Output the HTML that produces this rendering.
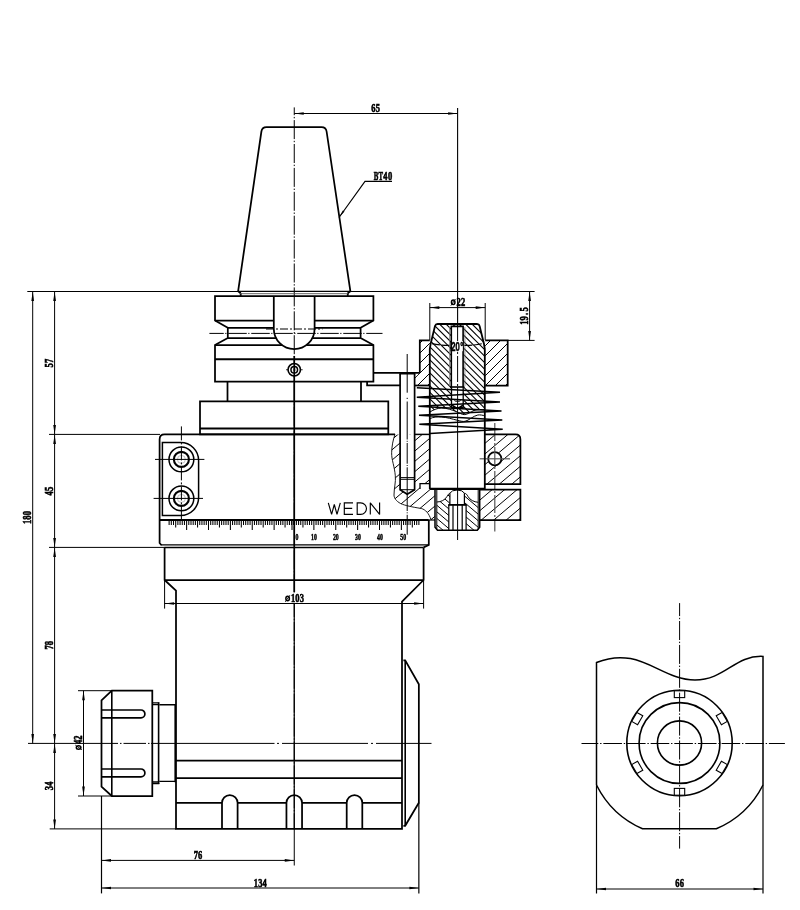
<!DOCTYPE html>
<html><head><meta charset="utf-8"><title>Angle head drawing</title>
<style>
html,body{margin:0;padding:0;background:#fff;}
body{width:800px;height:910px;overflow:hidden;font-family:"Liberation Sans",sans-serif;}
svg{display:block;filter:grayscale(1);}
</style></head><body>
<svg width="800" height="910" viewBox="0 0 800 910" fill="none" stroke="#000" stroke-linecap="butt" stroke-linejoin="miter">
<rect x="0" y="0" width="800" height="910" fill="#fff" stroke="none"/>
<line x1="27.30" y1="291.50" x2="534.60" y2="291.50" stroke-width="1.0" />
<line x1="32.70" y1="291.40" x2="32.70" y2="743.40" stroke-width="1.0" />
<polygon points="32.70,291.40 34.05,300.90 31.35,300.90" fill="#000" stroke="none"/>
<polygon points="32.70,743.40 31.35,733.90 34.05,733.90" fill="#000" stroke="none"/>
<text transform="translate(31.30,517.60) rotate(-90) translate(-4.40,0) scale(0.65,1)" text-anchor="middle" font-size="13.1" font-weight="bold" font-family="&quot;Liberation Serif&quot;, serif" fill="#000" stroke="#000" stroke-width="0.65">1</text>
<text transform="translate(31.30,517.60) rotate(-90) translate(0.00,0) scale(0.65,1)" text-anchor="middle" font-size="13.1" font-weight="bold" font-family="&quot;Liberation Serif&quot;, serif" fill="#000" stroke="#000" stroke-width="0.65">8</text>
<text transform="translate(31.30,517.60) rotate(-90) translate(4.40,0) scale(0.65,1)" text-anchor="middle" font-size="13.1" font-weight="bold" font-family="&quot;Liberation Serif&quot;, serif" fill="#000" stroke="#000" stroke-width="0.65">0</text>
<line x1="54.60" y1="291.40" x2="54.60" y2="434.40" stroke-width="1.0" />
<polygon points="54.60,291.40 55.95,300.90 53.25,300.90" fill="#000" stroke="none"/>
<polygon points="54.60,434.40 53.25,424.90 55.95,424.90" fill="#000" stroke="none"/>
<line x1="54.60" y1="434.40" x2="54.60" y2="547.40" stroke-width="1.0" />
<polygon points="54.60,434.40 55.95,443.90 53.25,443.90" fill="#000" stroke="none"/>
<polygon points="54.60,547.40 53.25,537.90 55.95,537.90" fill="#000" stroke="none"/>
<line x1="54.60" y1="547.40" x2="54.60" y2="743.40" stroke-width="1.0" />
<polygon points="54.60,547.40 55.95,556.90 53.25,556.90" fill="#000" stroke="none"/>
<polygon points="54.60,743.40 53.25,733.90 55.95,733.90" fill="#000" stroke="none"/>
<line x1="54.60" y1="743.40" x2="54.60" y2="828.90" stroke-width="1.0" />
<polygon points="54.60,743.40 55.95,752.90 53.25,752.90" fill="#000" stroke="none"/>
<polygon points="54.60,828.90 53.25,819.40 55.95,819.40" fill="#000" stroke="none"/>
<text transform="translate(53.10,363.10) rotate(-90) translate(-2.20,0) scale(0.65,1)" text-anchor="middle" font-size="13.1" font-weight="bold" font-family="&quot;Liberation Serif&quot;, serif" fill="#000" stroke="#000" stroke-width="0.65">5</text>
<text transform="translate(53.10,363.10) rotate(-90) translate(2.20,0) scale(0.65,1)" text-anchor="middle" font-size="13.1" font-weight="bold" font-family="&quot;Liberation Serif&quot;, serif" fill="#000" stroke="#000" stroke-width="0.65">7</text>
<text transform="translate(53.10,491.10) rotate(-90) translate(-2.20,0) scale(0.65,1)" text-anchor="middle" font-size="13.1" font-weight="bold" font-family="&quot;Liberation Serif&quot;, serif" fill="#000" stroke="#000" stroke-width="0.65">4</text>
<text transform="translate(53.10,491.10) rotate(-90) translate(2.20,0) scale(0.65,1)" text-anchor="middle" font-size="13.1" font-weight="bold" font-family="&quot;Liberation Serif&quot;, serif" fill="#000" stroke="#000" stroke-width="0.65">5</text>
<text transform="translate(53.10,645.30) rotate(-90) translate(-2.20,0) scale(0.65,1)" text-anchor="middle" font-size="13.1" font-weight="bold" font-family="&quot;Liberation Serif&quot;, serif" fill="#000" stroke="#000" stroke-width="0.65">7</text>
<text transform="translate(53.10,645.30) rotate(-90) translate(2.20,0) scale(0.65,1)" text-anchor="middle" font-size="13.1" font-weight="bold" font-family="&quot;Liberation Serif&quot;, serif" fill="#000" stroke="#000" stroke-width="0.65">8</text>
<text transform="translate(53.10,785.90) rotate(-90) translate(-2.20,0) scale(0.65,1)" text-anchor="middle" font-size="13.1" font-weight="bold" font-family="&quot;Liberation Serif&quot;, serif" fill="#000" stroke="#000" stroke-width="0.65">3</text>
<text transform="translate(53.10,785.90) rotate(-90) translate(2.20,0) scale(0.65,1)" text-anchor="middle" font-size="13.1" font-weight="bold" font-family="&quot;Liberation Serif&quot;, serif" fill="#000" stroke="#000" stroke-width="0.65">4</text>
<line x1="49.00" y1="434.40" x2="160.00" y2="434.40" stroke-width="1.0" />
<line x1="49.00" y1="547.40" x2="165.00" y2="547.40" stroke-width="1.0" />
<line x1="49.70" y1="828.90" x2="176.00" y2="828.90" stroke-width="1.0" />
<line x1="294.25" y1="113.50" x2="457.60" y2="113.50" stroke-width="1.0" />
<polygon points="294.25,113.50 303.75,112.15 303.75,114.85" fill="#000" stroke="none"/>
<polygon points="457.60,113.50 448.10,114.85 448.10,112.15" fill="#000" stroke="none"/>
<text transform="translate(375.60,112.00) translate(-2.20,0) scale(0.65,1)" text-anchor="middle" font-size="13.1" font-weight="bold" font-family="&quot;Liberation Serif&quot;, serif" fill="#000" stroke="#000" stroke-width="0.65">6</text>
<text transform="translate(375.60,112.00) translate(2.20,0) scale(0.65,1)" text-anchor="middle" font-size="13.1" font-weight="bold" font-family="&quot;Liberation Serif&quot;, serif" fill="#000" stroke="#000" stroke-width="0.65">5</text>
<line x1="457.60" y1="108.00" x2="457.60" y2="324.00" stroke-width="1.1" />
<path d="M339,217.5 L365,181.3 L392,181.3" stroke-width="1.15" />
<polygon points="339.00,217.50 342.85,210.42 344.48,211.59" fill="#000" stroke="none"/>
<text transform="translate(383.10,179.90) translate(-7.05,0) scale(0.52,1)" text-anchor="middle" font-size="13.1" font-weight="bold" font-family="&quot;Liberation Serif&quot;, serif" fill="#000" stroke="#000" stroke-width="0.65">B</text>
<text transform="translate(383.10,179.90) translate(-2.35,0) scale(0.52,1)" text-anchor="middle" font-size="13.1" font-weight="bold" font-family="&quot;Liberation Serif&quot;, serif" fill="#000" stroke="#000" stroke-width="0.65">T</text>
<text transform="translate(383.10,179.90) translate(2.35,0) scale(0.65,1)" text-anchor="middle" font-size="13.1" font-weight="bold" font-family="&quot;Liberation Serif&quot;, serif" fill="#000" stroke="#000" stroke-width="0.65">4</text>
<text transform="translate(383.10,179.90) translate(7.05,0) scale(0.65,1)" text-anchor="middle" font-size="13.1" font-weight="bold" font-family="&quot;Liberation Serif&quot;, serif" fill="#000" stroke="#000" stroke-width="0.65">0</text>
<line x1="294.25" y1="107.40" x2="294.25" y2="592.30" stroke-width="1.0" stroke-dasharray="19 1.7 1.4 1.8" stroke-dashoffset="11.2"/>
<line x1="294.25" y1="604.00" x2="294.25" y2="828.00" stroke-width="1.0" stroke-dasharray="19 1.7 1.4 1.8" stroke-dashoffset="5.9"/>
<line x1="294.25" y1="830.00" x2="294.25" y2="865.50" stroke-width="1.0" />
<line x1="28.00" y1="743.40" x2="118.00" y2="743.40" stroke-width="1.0" />
<line x1="120.00" y1="743.40" x2="121.50" y2="743.40" stroke-width="1.0" />
<line x1="123.50" y1="743.40" x2="146.00" y2="743.40" stroke-width="1.0" />
<line x1="148.00" y1="743.40" x2="149.50" y2="743.40" stroke-width="1.0" />
<line x1="151.00" y1="743.40" x2="274.50" y2="743.40" stroke-width="1.0" />
<line x1="277.00" y1="743.40" x2="279.00" y2="743.40" stroke-width="1.0" />
<line x1="282.00" y1="743.40" x2="368.00" y2="743.40" stroke-width="1.0" />
<line x1="371.00" y1="743.40" x2="373.00" y2="743.40" stroke-width="1.0" />
<line x1="376.00" y1="743.40" x2="431.50" y2="743.40" stroke-width="1.0" />
<line x1="209.40" y1="333.40" x2="382.50" y2="333.40" stroke-width="1.0" stroke-dasharray="18.5 1.5 1.2 1.8" stroke-dashoffset="4.15"/>
<line x1="266.00" y1="329.00" x2="322.50" y2="329.00" stroke-width="1.2" stroke-dasharray="8 2 2 2"/>
<line x1="429.80" y1="303.00" x2="429.80" y2="340.00" stroke-width="1.0" />
<line x1="485.20" y1="303.00" x2="485.20" y2="340.00" stroke-width="1.0" />
<line x1="429.80" y1="307.60" x2="485.20" y2="307.60" stroke-width="1.0" />
<polygon points="429.80,307.60 439.30,306.25 439.30,308.95" fill="#000" stroke="none"/>
<polygon points="485.20,307.60 475.70,308.95 475.70,306.25" fill="#000" stroke="none"/>
<g transform="translate(457.50,305.90)"><ellipse cx="-4.30" cy="-3.6" rx="1.75" ry="2.3" fill="none" stroke="#000" stroke-width="1.5"/><line x1="-6.60" y1="-0.3" x2="-2.00" y2="-6.9" stroke="#000" stroke-width="0.9"/></g>
<text transform="translate(457.50,305.90) translate(1.10,0) scale(0.65,1)" text-anchor="middle" font-size="13.1" font-weight="bold" font-family="&quot;Liberation Serif&quot;, serif" fill="#000" stroke="#000" stroke-width="0.65">2</text>
<text transform="translate(457.50,305.90) translate(5.50,0) scale(0.65,1)" text-anchor="middle" font-size="13.1" font-weight="bold" font-family="&quot;Liberation Serif&quot;, serif" fill="#000" stroke="#000" stroke-width="0.65">2</text>
<line x1="507.70" y1="340.40" x2="534.60" y2="340.40" stroke-width="1.0" />
<line x1="529.60" y1="291.40" x2="529.60" y2="340.40" stroke-width="1.0" />
<polygon points="529.60,291.40 530.95,300.90 528.25,300.90" fill="#000" stroke="none"/>
<polygon points="529.60,340.40 528.25,330.90 530.95,330.90" fill="#000" stroke="none"/>
<text transform="translate(528.30,316.10) rotate(-90) translate(-6.60,0) scale(0.65,1)" text-anchor="middle" font-size="13.1" font-weight="bold" font-family="&quot;Liberation Serif&quot;, serif" fill="#000" stroke="#000" stroke-width="0.65">1</text>
<text transform="translate(528.30,316.10) rotate(-90) translate(-2.20,0) scale(0.65,1)" text-anchor="middle" font-size="13.1" font-weight="bold" font-family="&quot;Liberation Serif&quot;, serif" fill="#000" stroke="#000" stroke-width="0.65">9</text>
<text transform="translate(528.30,316.10) rotate(-90) translate(2.20,0) scale(0.65,1)" text-anchor="middle" font-size="13.1" font-weight="bold" font-family="&quot;Liberation Serif&quot;, serif" fill="#000" stroke="#000" stroke-width="0.65">.</text>
<text transform="translate(528.30,316.10) rotate(-90) translate(6.60,0) scale(0.65,1)" text-anchor="middle" font-size="13.1" font-weight="bold" font-family="&quot;Liberation Serif&quot;, serif" fill="#000" stroke="#000" stroke-width="0.65">5</text>
<line x1="164.60" y1="580.00" x2="164.60" y2="608.60" stroke-width="1.0" />
<line x1="423.60" y1="580.00" x2="423.60" y2="608.60" stroke-width="1.0" />
<line x1="164.60" y1="603.50" x2="423.60" y2="603.50" stroke-width="1.0" />
<polygon points="164.60,603.50 174.10,602.15 174.10,604.85" fill="#000" stroke="none"/>
<polygon points="423.60,603.50 414.10,604.85 414.10,602.15" fill="#000" stroke="none"/>
<g transform="translate(294.10,602.10)"><ellipse cx="-6.50" cy="-3.6" rx="1.75" ry="2.3" fill="none" stroke="#000" stroke-width="1.5"/><line x1="-8.80" y1="-0.3" x2="-4.20" y2="-6.9" stroke="#000" stroke-width="0.9"/></g>
<text transform="translate(294.10,602.10) translate(-1.10,0) scale(0.65,1)" text-anchor="middle" font-size="13.1" font-weight="bold" font-family="&quot;Liberation Serif&quot;, serif" fill="#000" stroke="#000" stroke-width="0.65">1</text>
<text transform="translate(294.10,602.10) translate(3.30,0) scale(0.65,1)" text-anchor="middle" font-size="13.1" font-weight="bold" font-family="&quot;Liberation Serif&quot;, serif" fill="#000" stroke="#000" stroke-width="0.65">0</text>
<text transform="translate(294.10,602.10) translate(7.70,0) scale(0.65,1)" text-anchor="middle" font-size="13.1" font-weight="bold" font-family="&quot;Liberation Serif&quot;, serif" fill="#000" stroke="#000" stroke-width="0.65">3</text>
<line x1="78.00" y1="690.70" x2="111.80" y2="690.70" stroke-width="1.0" />
<line x1="78.00" y1="796.00" x2="111.80" y2="796.00" stroke-width="1.0" />
<line x1="83.50" y1="690.70" x2="83.50" y2="796.00" stroke-width="1.0" />
<polygon points="83.50,690.70 84.85,700.20 82.15,700.20" fill="#000" stroke="none"/>
<polygon points="83.50,796.00 82.15,786.50 84.85,786.50" fill="#000" stroke="none"/>
<g transform="translate(82.20,743.10) rotate(-90)"><ellipse cx="-4.30" cy="-3.6" rx="1.75" ry="2.3" fill="none" stroke="#000" stroke-width="1.5"/><line x1="-6.60" y1="-0.3" x2="-2.00" y2="-6.9" stroke="#000" stroke-width="0.9"/></g>
<text transform="translate(82.20,743.10) rotate(-90) translate(1.10,0) scale(0.65,1)" text-anchor="middle" font-size="13.1" font-weight="bold" font-family="&quot;Liberation Serif&quot;, serif" fill="#000" stroke="#000" stroke-width="0.65">4</text>
<text transform="translate(82.20,743.10) rotate(-90) translate(5.50,0) scale(0.65,1)" text-anchor="middle" font-size="13.1" font-weight="bold" font-family="&quot;Liberation Serif&quot;, serif" fill="#000" stroke="#000" stroke-width="0.65">2</text>
<line x1="101.50" y1="796.00" x2="101.50" y2="893.40" stroke-width="1.2" />
<line x1="418.85" y1="802.70" x2="418.85" y2="893.40" stroke-width="1.2" />
<line x1="101.50" y1="860.40" x2="294.25" y2="860.40" stroke-width="1.0" />
<polygon points="101.50,860.40 111.00,859.05 111.00,861.75" fill="#000" stroke="none"/>
<polygon points="294.25,860.40 284.75,861.75 284.75,859.05" fill="#000" stroke="none"/>
<text transform="translate(198.00,858.70) translate(-2.20,0) scale(0.65,1)" text-anchor="middle" font-size="13.1" font-weight="bold" font-family="&quot;Liberation Serif&quot;, serif" fill="#000" stroke="#000" stroke-width="0.65">7</text>
<text transform="translate(198.00,858.70) translate(2.20,0) scale(0.65,1)" text-anchor="middle" font-size="13.1" font-weight="bold" font-family="&quot;Liberation Serif&quot;, serif" fill="#000" stroke="#000" stroke-width="0.65">6</text>
<line x1="101.50" y1="888.00" x2="418.85" y2="888.00" stroke-width="1.0" />
<polygon points="101.50,888.00 111.00,886.65 111.00,889.35" fill="#000" stroke="none"/>
<polygon points="418.85,888.00 409.35,889.35 409.35,886.65" fill="#000" stroke="none"/>
<text transform="translate(260.25,886.60) translate(-4.40,0) scale(0.65,1)" text-anchor="middle" font-size="13.1" font-weight="bold" font-family="&quot;Liberation Serif&quot;, serif" fill="#000" stroke="#000" stroke-width="0.65">1</text>
<text transform="translate(260.25,886.60) translate(0.00,0) scale(0.65,1)" text-anchor="middle" font-size="13.1" font-weight="bold" font-family="&quot;Liberation Serif&quot;, serif" fill="#000" stroke="#000" stroke-width="0.65">3</text>
<text transform="translate(260.25,886.60) translate(4.40,0) scale(0.65,1)" text-anchor="middle" font-size="13.1" font-weight="bold" font-family="&quot;Liberation Serif&quot;, serif" fill="#000" stroke="#000" stroke-width="0.65">4</text>
<line x1="596.50" y1="785.00" x2="596.50" y2="893.50" stroke-width="1.2" />
<line x1="763.00" y1="785.00" x2="763.00" y2="893.50" stroke-width="1.2" />
<line x1="596.50" y1="889.00" x2="763.00" y2="889.00" stroke-width="1.0" />
<polygon points="596.50,889.00 606.00,887.65 606.00,890.35" fill="#000" stroke="none"/>
<polygon points="763.00,889.00 753.50,890.35 753.50,887.65" fill="#000" stroke="none"/>
<text transform="translate(679.60,887.40) translate(-2.20,0) scale(0.65,1)" text-anchor="middle" font-size="13.1" font-weight="bold" font-family="&quot;Liberation Serif&quot;, serif" fill="#000" stroke="#000" stroke-width="0.65">6</text>
<text transform="translate(679.60,887.40) translate(2.20,0) scale(0.65,1)" text-anchor="middle" font-size="13.1" font-weight="bold" font-family="&quot;Liberation Serif&quot;, serif" fill="#000" stroke="#000" stroke-width="0.65">6</text>
<path d="M238.1,291.4 L261.4,131.5 Q262,127 266.5,127 L321.5,127 Q326,127 326.6,131.5 L350.4,291.4" stroke-width="1.75" />
<path d="M238.1,291.4 Q241.5,292.5 240.6,296 M350.4,291.4 Q347,292.5 347.9,296" stroke-width="1.75" />
<line x1="238.10" y1="291.40" x2="350.40" y2="291.40" stroke-width="1.3" />
<line x1="240.00" y1="293.70" x2="348.50" y2="293.70" stroke-width="0.9" stroke="#555"/>
<path d="M215,296 L373.4,296 L373.4,320.6 L360.6,327.8 L360.6,338.1 L373.4,345 L373.4,381.5 L215,381.5 L215,345 L227.8,338.1 L227.8,327.8 L215,320.6 Z" stroke-width="1.75" />
<path d="M273.8,296 L273.8,328.7 A20.4,20.4 0 0 0 314.6,328.7 L314.6,296" stroke-width="1.75" />
<line x1="215.00" y1="320.60" x2="273.85" y2="320.60" stroke-width="1.75" />
<line x1="314.65" y1="320.60" x2="373.40" y2="320.60" stroke-width="1.75" />
<line x1="227.80" y1="327.80" x2="273.85" y2="327.80" stroke-width="1.75" />
<line x1="314.65" y1="327.80" x2="360.60" y2="327.80" stroke-width="1.75" />
<line x1="227.80" y1="338.10" x2="276.14" y2="338.10" stroke-width="1.75" />
<line x1="312.36" y1="338.10" x2="360.60" y2="338.10" stroke-width="1.75" />
<line x1="215.00" y1="345.00" x2="281.98" y2="345.00" stroke-width="1.75" />
<line x1="306.52" y1="345.00" x2="373.40" y2="345.00" stroke-width="1.75" />
<line x1="215.00" y1="359.20" x2="373.40" y2="359.20" stroke-width="2" />
<line x1="286.00" y1="369.75" x2="302.70" y2="369.75" stroke-width="0.8" />
<circle cx="294.25" cy="369.75" r="6.2" stroke-width="1.6" fill="#fff"/>
<circle cx="294.25" cy="369.75" r="3.3" stroke-width="1.5" />
<rect x="292.9" y="368.4" width="2.7" height="2.7" fill="#999" stroke="none"/>
<line x1="294.25" y1="356.00" x2="294.25" y2="592.30" stroke-width="1.7" />
<line x1="294.25" y1="604.00" x2="294.25" y2="830.00" stroke-width="1.2" />
<path d="M227.5,381.5 L227.5,401.3 M361,381.5 L361,401.3" stroke-width="1.75" />
<path d="M200,401.3 L388.3,401.3 L388.3,434.4 L200,434.4 Z" stroke-width="1.75" />
<line x1="200.00" y1="428.60" x2="388.30" y2="428.60" stroke-width="2" />
<path d="M373.4,372.8 L419.8,372.8" stroke-width="1.75" />
<path d="M367.1,381.5 L367.1,385.4 L400.1,385.4" stroke-width="1.75" />
<path d="M395,434.4 L164.6,434.4 Q159.6,434.4 159.6,439.4 L159.6,543 L161.5,545.2" stroke-width="1.75" />
<line x1="159.60" y1="520.00" x2="428.80" y2="520.00" stroke-width="2.2" />
<line x1="428.80" y1="520.00" x2="435.00" y2="520.00" stroke-width="1.2" />
<path d="M428.8,520 L428.8,545 L423.6,547.4" stroke-width="1.75" />
<line x1="161.00" y1="544.80" x2="428.80" y2="544.80" stroke-width="1.3" />
<line x1="164.60" y1="547.40" x2="423.60" y2="547.40" stroke-width="1.5" />
<path d="M164.6,547.4 L164.6,580 L176,590.6 L176,828.9 L402,828.9 L402,601.6 L423.6,580 L423.6,547.4" stroke-width="1.75" />
<line x1="164.60" y1="580.00" x2="423.60" y2="580.00" stroke-width="1.75" />
<path d="M180.6,442.4 L162.4,442.4 L162.4,515.6 L180.6,515.6 A18,18 0 0 0 198.6,497.6 L198.6,460.4 A18,18 0 0 0 180.6,442.4 Z" stroke-width="1.5" />
<circle cx="181.4" cy="459.4" r="12.4" stroke-width="1.5" />
<circle cx="181.4" cy="459.4" r="7.5" stroke-width="2.1" />
<circle cx="181.4" cy="459.4" r="4.0" stroke-width="0.6" stroke="#999"/>
<circle cx="181.4" cy="498.4" r="12.4" stroke-width="1.5" />
<circle cx="181.4" cy="498.4" r="7.5" stroke-width="2.1" />
<circle cx="181.4" cy="498.4" r="4.0" stroke-width="0.6" stroke="#999"/>
<line x1="155.00" y1="459.40" x2="204.40" y2="459.40" stroke-width="1.0" />
<line x1="153.60" y1="498.40" x2="203.00" y2="498.40" stroke-width="1.0" />
<line x1="181.40" y1="426.40" x2="181.40" y2="520.00" stroke-width="1.0" stroke-dasharray="14 2 2 2"/>
<line x1="176.00" y1="760.50" x2="402.00" y2="760.50" stroke-width="1.75" />
<line x1="176.00" y1="778.00" x2="402.00" y2="778.00" stroke-width="1.75" />
<line x1="176.00" y1="802.80" x2="222.00" y2="802.80" stroke-width="1.75" />
<line x1="237.60" y1="802.80" x2="286.45" y2="802.80" stroke-width="1.75" />
<line x1="302.05" y1="802.80" x2="346.70" y2="802.80" stroke-width="1.75" />
<line x1="362.30" y1="802.80" x2="402.00" y2="802.80" stroke-width="1.75" />
<path d="M222.0,828.9 L222.0,802.8 A7.8,7.8 0 0 1 237.60000000000002,802.8 L237.60000000000002,828.9" stroke-width="1.75" />
<path d="M286.45,828.9 L286.45,802.8 A7.8,7.8 0 0 1 302.05,802.8 L302.05,828.9" stroke-width="1.75" />
<path d="M346.7,828.9 L346.7,802.8 A7.8,7.8 0 0 1 362.3,802.8 L362.3,828.9" stroke-width="1.75" />
<path d="M403.4,660.3 L405.2,660.3 L418.85,684.3 L418.85,802.7 L405.2,825.8 L403.4,825.8" stroke-width="1.75" />
<line x1="405.20" y1="660.30" x2="405.20" y2="825.80" stroke-width="1.6" />
<path d="M111.8,690.7 L152.3,690.7 L152.3,796 L111.8,796 L101.5,786.6 L101.5,700.4 Z" stroke-width="1.75" />
<line x1="111.80" y1="690.70" x2="111.80" y2="796.00" stroke-width="1.6" />
<path d="M101.5,710 L141,710 A3.9,3.9 0 0 1 141,717.8 L101.5,717.8" stroke-width="1.7" />
<path d="M101.5,769 L141,769 A3.9,3.9 0 0 1 141,776.8 L101.5,776.8" stroke-width="1.7" />
<path d="M152.3,702.9 L159.3,702.9 M152.3,783.5 L159.3,783.5 M152.3,704.6 L158.4,704.6 M152.3,781.8 L158.4,781.8" stroke-width="1.3" />
<line x1="158.60" y1="702.40" x2="158.60" y2="784.00" stroke-width="1.6" />
<path d="M159.3,704.8 L176,704.8 M159.3,781.4 L176,781.4" stroke-width="1.4" />
<line x1="175.20" y1="704.00" x2="175.20" y2="782.20" stroke-width="1.6" />
<line x1="292.00" y1="520.50" x2="292.00" y2="530.00" stroke-width="1.05" />
<line x1="294.19" y1="520.50" x2="294.19" y2="525.00" stroke-width="1.05" />
<line x1="296.38" y1="520.50" x2="296.38" y2="525.00" stroke-width="1.05" />
<line x1="298.56" y1="520.50" x2="298.56" y2="525.00" stroke-width="1.05" />
<line x1="300.75" y1="520.50" x2="300.75" y2="525.00" stroke-width="1.05" />
<line x1="302.94" y1="520.50" x2="302.94" y2="527.60" stroke-width="1.05" />
<line x1="305.12" y1="520.50" x2="305.12" y2="525.00" stroke-width="1.05" />
<line x1="307.31" y1="520.50" x2="307.31" y2="525.00" stroke-width="1.05" />
<line x1="309.50" y1="520.50" x2="309.50" y2="525.00" stroke-width="1.05" />
<line x1="311.69" y1="520.50" x2="311.69" y2="525.00" stroke-width="1.05" />
<line x1="313.88" y1="520.50" x2="313.88" y2="530.00" stroke-width="1.05" />
<line x1="316.06" y1="520.50" x2="316.06" y2="525.00" stroke-width="1.05" />
<line x1="318.25" y1="520.50" x2="318.25" y2="525.00" stroke-width="1.05" />
<line x1="320.44" y1="520.50" x2="320.44" y2="525.00" stroke-width="1.05" />
<line x1="322.62" y1="520.50" x2="322.62" y2="525.00" stroke-width="1.05" />
<line x1="324.81" y1="520.50" x2="324.81" y2="527.60" stroke-width="1.05" />
<line x1="327.00" y1="520.50" x2="327.00" y2="525.00" stroke-width="1.05" />
<line x1="329.19" y1="520.50" x2="329.19" y2="525.00" stroke-width="1.05" />
<line x1="331.38" y1="520.50" x2="331.38" y2="525.00" stroke-width="1.05" />
<line x1="333.56" y1="520.50" x2="333.56" y2="525.00" stroke-width="1.05" />
<line x1="335.75" y1="520.50" x2="335.75" y2="530.00" stroke-width="1.05" />
<line x1="337.94" y1="520.50" x2="337.94" y2="525.00" stroke-width="1.05" />
<line x1="340.12" y1="520.50" x2="340.12" y2="525.00" stroke-width="1.05" />
<line x1="342.31" y1="520.50" x2="342.31" y2="525.00" stroke-width="1.05" />
<line x1="344.50" y1="520.50" x2="344.50" y2="525.00" stroke-width="1.05" />
<line x1="346.69" y1="520.50" x2="346.69" y2="527.60" stroke-width="1.05" />
<line x1="348.88" y1="520.50" x2="348.88" y2="525.00" stroke-width="1.05" />
<line x1="351.06" y1="520.50" x2="351.06" y2="525.00" stroke-width="1.05" />
<line x1="353.25" y1="520.50" x2="353.25" y2="525.00" stroke-width="1.05" />
<line x1="355.44" y1="520.50" x2="355.44" y2="525.00" stroke-width="1.05" />
<line x1="357.62" y1="520.50" x2="357.62" y2="530.00" stroke-width="1.05" />
<line x1="359.81" y1="520.50" x2="359.81" y2="525.00" stroke-width="1.05" />
<line x1="362.00" y1="520.50" x2="362.00" y2="525.00" stroke-width="1.05" />
<line x1="364.19" y1="520.50" x2="364.19" y2="525.00" stroke-width="1.05" />
<line x1="366.38" y1="520.50" x2="366.38" y2="525.00" stroke-width="1.05" />
<line x1="368.56" y1="520.50" x2="368.56" y2="527.60" stroke-width="1.05" />
<line x1="370.75" y1="520.50" x2="370.75" y2="525.00" stroke-width="1.05" />
<line x1="372.94" y1="520.50" x2="372.94" y2="525.00" stroke-width="1.05" />
<line x1="375.12" y1="520.50" x2="375.12" y2="525.00" stroke-width="1.05" />
<line x1="377.31" y1="520.50" x2="377.31" y2="525.00" stroke-width="1.05" />
<line x1="379.50" y1="520.50" x2="379.50" y2="530.00" stroke-width="1.05" />
<line x1="381.69" y1="520.50" x2="381.69" y2="525.00" stroke-width="1.05" />
<line x1="383.88" y1="520.50" x2="383.88" y2="525.00" stroke-width="1.05" />
<line x1="386.06" y1="520.50" x2="386.06" y2="525.00" stroke-width="1.05" />
<line x1="388.25" y1="520.50" x2="388.25" y2="525.00" stroke-width="1.05" />
<line x1="390.44" y1="520.50" x2="390.44" y2="527.60" stroke-width="1.05" />
<line x1="392.62" y1="520.50" x2="392.62" y2="525.00" stroke-width="1.05" />
<line x1="394.81" y1="520.50" x2="394.81" y2="525.00" stroke-width="1.05" />
<line x1="397.00" y1="520.50" x2="397.00" y2="525.00" stroke-width="1.05" />
<line x1="399.19" y1="520.50" x2="399.19" y2="525.00" stroke-width="1.05" />
<line x1="401.38" y1="520.50" x2="401.38" y2="530.00" stroke-width="1.05" />
<line x1="403.56" y1="520.50" x2="403.56" y2="525.00" stroke-width="1.05" />
<line x1="405.75" y1="520.50" x2="405.75" y2="525.00" stroke-width="1.05" />
<line x1="407.94" y1="520.50" x2="407.94" y2="525.00" stroke-width="1.05" />
<line x1="410.12" y1="520.50" x2="410.12" y2="525.00" stroke-width="1.05" />
<line x1="412.31" y1="520.50" x2="412.31" y2="527.60" stroke-width="1.05" />
<line x1="414.50" y1="520.50" x2="414.50" y2="525.00" stroke-width="1.05" />
<line x1="416.69" y1="520.50" x2="416.69" y2="525.00" stroke-width="1.05" />
<line x1="418.88" y1="520.50" x2="418.88" y2="525.00" stroke-width="1.05" />
<line x1="293.81" y1="520.50" x2="293.81" y2="525.00" stroke-width="1.05" />
<line x1="291.62" y1="520.50" x2="291.62" y2="525.00" stroke-width="1.05" />
<line x1="289.44" y1="520.50" x2="289.44" y2="525.00" stroke-width="1.05" />
<line x1="287.25" y1="520.50" x2="287.25" y2="525.00" stroke-width="1.05" />
<line x1="285.06" y1="520.50" x2="285.06" y2="527.60" stroke-width="1.05" />
<line x1="282.88" y1="520.50" x2="282.88" y2="525.00" stroke-width="1.05" />
<line x1="280.69" y1="520.50" x2="280.69" y2="525.00" stroke-width="1.05" />
<line x1="278.50" y1="520.50" x2="278.50" y2="525.00" stroke-width="1.05" />
<line x1="276.31" y1="520.50" x2="276.31" y2="525.00" stroke-width="1.05" />
<line x1="274.12" y1="520.50" x2="274.12" y2="530.00" stroke-width="1.05" />
<line x1="271.94" y1="520.50" x2="271.94" y2="525.00" stroke-width="1.05" />
<line x1="269.75" y1="520.50" x2="269.75" y2="525.00" stroke-width="1.05" />
<line x1="267.56" y1="520.50" x2="267.56" y2="525.00" stroke-width="1.05" />
<line x1="265.38" y1="520.50" x2="265.38" y2="525.00" stroke-width="1.05" />
<line x1="263.19" y1="520.50" x2="263.19" y2="527.60" stroke-width="1.05" />
<line x1="261.00" y1="520.50" x2="261.00" y2="525.00" stroke-width="1.05" />
<line x1="258.81" y1="520.50" x2="258.81" y2="525.00" stroke-width="1.05" />
<line x1="256.62" y1="520.50" x2="256.62" y2="525.00" stroke-width="1.05" />
<line x1="254.44" y1="520.50" x2="254.44" y2="525.00" stroke-width="1.05" />
<line x1="252.25" y1="520.50" x2="252.25" y2="530.00" stroke-width="1.05" />
<line x1="250.06" y1="520.50" x2="250.06" y2="525.00" stroke-width="1.05" />
<line x1="247.88" y1="520.50" x2="247.88" y2="525.00" stroke-width="1.05" />
<line x1="245.69" y1="520.50" x2="245.69" y2="525.00" stroke-width="1.05" />
<line x1="243.50" y1="520.50" x2="243.50" y2="525.00" stroke-width="1.05" />
<line x1="241.31" y1="520.50" x2="241.31" y2="527.60" stroke-width="1.05" />
<line x1="239.12" y1="520.50" x2="239.12" y2="525.00" stroke-width="1.05" />
<line x1="236.94" y1="520.50" x2="236.94" y2="525.00" stroke-width="1.05" />
<line x1="234.75" y1="520.50" x2="234.75" y2="525.00" stroke-width="1.05" />
<line x1="232.56" y1="520.50" x2="232.56" y2="525.00" stroke-width="1.05" />
<line x1="230.38" y1="520.50" x2="230.38" y2="530.00" stroke-width="1.05" />
<line x1="228.19" y1="520.50" x2="228.19" y2="525.00" stroke-width="1.05" />
<line x1="226.00" y1="520.50" x2="226.00" y2="525.00" stroke-width="1.05" />
<line x1="223.81" y1="520.50" x2="223.81" y2="525.00" stroke-width="1.05" />
<line x1="221.62" y1="520.50" x2="221.62" y2="525.00" stroke-width="1.05" />
<line x1="219.44" y1="520.50" x2="219.44" y2="527.60" stroke-width="1.05" />
<line x1="217.25" y1="520.50" x2="217.25" y2="525.00" stroke-width="1.05" />
<line x1="215.06" y1="520.50" x2="215.06" y2="525.00" stroke-width="1.05" />
<line x1="212.88" y1="520.50" x2="212.88" y2="525.00" stroke-width="1.05" />
<line x1="210.69" y1="520.50" x2="210.69" y2="525.00" stroke-width="1.05" />
<line x1="208.50" y1="520.50" x2="208.50" y2="530.00" stroke-width="1.05" />
<line x1="206.31" y1="520.50" x2="206.31" y2="525.00" stroke-width="1.05" />
<line x1="204.12" y1="520.50" x2="204.12" y2="525.00" stroke-width="1.05" />
<line x1="201.94" y1="520.50" x2="201.94" y2="525.00" stroke-width="1.05" />
<line x1="199.75" y1="520.50" x2="199.75" y2="525.00" stroke-width="1.05" />
<line x1="197.56" y1="520.50" x2="197.56" y2="527.60" stroke-width="1.05" />
<line x1="195.38" y1="520.50" x2="195.38" y2="525.00" stroke-width="1.05" />
<line x1="193.19" y1="520.50" x2="193.19" y2="525.00" stroke-width="1.05" />
<line x1="191.00" y1="520.50" x2="191.00" y2="525.00" stroke-width="1.05" />
<line x1="188.81" y1="520.50" x2="188.81" y2="525.00" stroke-width="1.05" />
<line x1="186.62" y1="520.50" x2="186.62" y2="530.00" stroke-width="1.05" />
<line x1="184.44" y1="520.50" x2="184.44" y2="525.00" stroke-width="1.05" />
<line x1="182.25" y1="520.50" x2="182.25" y2="525.00" stroke-width="1.05" />
<line x1="180.06" y1="520.50" x2="180.06" y2="525.00" stroke-width="1.05" />
<line x1="177.88" y1="520.50" x2="177.88" y2="525.00" stroke-width="1.05" />
<line x1="175.69" y1="520.50" x2="175.69" y2="527.60" stroke-width="1.05" />
<line x1="173.50" y1="520.50" x2="173.50" y2="525.00" stroke-width="1.05" />
<line x1="171.31" y1="520.50" x2="171.31" y2="525.00" stroke-width="1.05" />
<line x1="169.12" y1="520.50" x2="169.12" y2="525.00" stroke-width="1.05" />
<text transform="translate(297.00,540.20) rotate(0) scale(0.68,1)" text-anchor="middle" font-size="8.6" font-weight="bold" font-family="&quot;Liberation Serif&quot;, serif" fill="#000" stroke="#000" stroke-width="0.45" >0</text>
<text transform="translate(314.00,540.20) rotate(0) scale(0.68,1)" text-anchor="middle" font-size="8.6" font-weight="bold" font-family="&quot;Liberation Serif&quot;, serif" fill="#000" stroke="#000" stroke-width="0.45" >10</text>
<text transform="translate(335.80,540.20) rotate(0) scale(0.68,1)" text-anchor="middle" font-size="8.6" font-weight="bold" font-family="&quot;Liberation Serif&quot;, serif" fill="#000" stroke="#000" stroke-width="0.45" >20</text>
<text transform="translate(358.00,540.20) rotate(0) scale(0.68,1)" text-anchor="middle" font-size="8.6" font-weight="bold" font-family="&quot;Liberation Serif&quot;, serif" fill="#000" stroke="#000" stroke-width="0.45" >30</text>
<text transform="translate(380.00,540.20) rotate(0) scale(0.68,1)" text-anchor="middle" font-size="8.6" font-weight="bold" font-family="&quot;Liberation Serif&quot;, serif" fill="#000" stroke="#000" stroke-width="0.45" >40</text>
<text transform="translate(403.20,540.20) rotate(0) scale(0.68,1)" text-anchor="middle" font-size="8.6" font-weight="bold" font-family="&quot;Liberation Serif&quot;, serif" fill="#000" stroke="#000" stroke-width="0.45" >50</text>
<path d="M328.3,502.8 L331.6,514.4 L334.3,504.5 L337,514.4 L340.3,502.8 M353,502.9 L344.3,502.9 L344.3,514.3 L353,514.3 M344.3,508.3 L352.2,508.3 M357.2,502.9 L357.2,514.3 L360.8,514.3 A5.7,5.7 0 0 0 360.8,502.9 Z M370.3,514.6 L370.3,502.8 L379.6,514.4 L379.6,502.6" stroke-width="1.15" stroke-linejoin="miter" stroke-miterlimit="3"/>
<defs>
<clipPath id="cPin"><path d="M435.3,324 L479.3,324 L484,344 L484.8,349 L484.8,409.7 C482,409.5 478,409.2 474,410.5 C470,412 468,414.4 464.5,414.6 C462,414.8 460,413 456,411.5 C452,410 447,408 441.5,408 C438,408 434,409.5 429.8,412 L429.8,349 L430.6,344 Z" clip-rule="evenodd"/></clipPath>
<clipPath id="cBL"><path d="M419.8,340.4 L429.8,340.4 L429.8,385.5 L414.6,385.5 L414.6,378 L419.8,372.8 Z" clip-rule="evenodd"/></clipPath>
<clipPath id="cBR"><path d="M485.2,340.4 L507.7,340.4 L507.7,385.5 L485.2,385.5 Z" clip-rule="evenodd"/></clipPath>
<clipPath id="cLU"><path d="M485,434.4 L515.4,434.4 Q520.4,434.4 520.4,439.4 L520.4,484 L485,484 Z" clip-rule="evenodd"/></clipPath>
<clipPath id="cLL"><path d="M480,489.6 L520.4,489.6 L520.4,520 L480,520 Z" clip-rule="evenodd"/></clipPath>
<clipPath id="cLeft"><path d="M395,434.4 L430,434.4 L430,483.7 L420,483.7 L420,489 L434.8,489 L434.8,520 L431,520 C429,512 425,509 421.3,508.5 C412,507 405,505.5 400.7,503.6 C396,501 394,498 394,495 C394,488 396,482 395.3,475.8 C394.5,466 391.5,460 391.65,452.8 C391.8,446 393,440 395,434.4 Z" clip-rule="evenodd"/></clipPath>
<clipPath id="cBush"><path d="M436.8,502 C441,502 445,500 447,496.5 C448,494.5 449,493.5 449.9,493.2 L449.9,505 L448.8,505 L448.8,530.3 L437.5,530.3 L436.8,529 Z M478.2,502.3 C474,502 470,500 468,496.5 C467,494.5 466,493.5 464.4,493.2 L464.4,505 L466.1,505 L466.1,530.3 L477.5,530.3 L478.2,529 Z" clip-rule="evenodd"/></clipPath>
</defs>
<g clip-path="url(#cPin)" stroke-width="1.15">
<line x1="428" y1="241.00" x2="487" y2="300.00"/>
<line x1="428" y1="247.50" x2="487" y2="306.50"/>
<line x1="428" y1="254.00" x2="487" y2="313.00"/>
<line x1="428" y1="260.50" x2="487" y2="319.50"/>
<line x1="428" y1="267.00" x2="487" y2="326.00"/>
<line x1="428" y1="273.50" x2="487" y2="332.50"/>
<line x1="428" y1="280.00" x2="487" y2="339.00"/>
<line x1="428" y1="286.50" x2="487" y2="345.50"/>
<line x1="428" y1="293.00" x2="487" y2="352.00"/>
<line x1="428" y1="299.50" x2="487" y2="358.50"/>
<line x1="428" y1="306.00" x2="487" y2="365.00"/>
<line x1="428" y1="312.50" x2="487" y2="371.50"/>
<line x1="428" y1="319.00" x2="487" y2="378.00"/>
<line x1="428" y1="325.50" x2="487" y2="384.50"/>
<line x1="428" y1="332.00" x2="487" y2="391.00"/>
<line x1="428" y1="338.50" x2="487" y2="397.50"/>
<line x1="428" y1="345.00" x2="487" y2="404.00"/>
<line x1="428" y1="351.50" x2="487" y2="410.50"/>
<line x1="428" y1="358.00" x2="487" y2="417.00"/>
<line x1="428" y1="364.50" x2="487" y2="423.50"/>
<line x1="428" y1="371.00" x2="487" y2="430.00"/>
<line x1="428" y1="377.50" x2="487" y2="436.50"/>
<line x1="428" y1="384.00" x2="487" y2="443.00"/>
<line x1="428" y1="390.50" x2="487" y2="449.50"/>
<line x1="428" y1="397.00" x2="487" y2="456.00"/>
<line x1="428" y1="403.50" x2="487" y2="462.50"/>
<line x1="428" y1="410.00" x2="487" y2="469.00"/>
<line x1="428" y1="416.50" x2="487" y2="475.50"/>
<line x1="428" y1="423.00" x2="487" y2="482.00"/>
<line x1="428" y1="429.50" x2="487" y2="488.50"/>
<line x1="428" y1="436.00" x2="487" y2="495.00"/>
<line x1="428" y1="442.50" x2="487" y2="501.50"/>
<line x1="428" y1="449.00" x2="487" y2="508.00"/>
<line x1="428" y1="455.50" x2="487" y2="514.50"/>
<line x1="428" y1="462.00" x2="487" y2="521.00"/>
<line x1="428" y1="468.50" x2="487" y2="527.50"/>
<line x1="428" y1="475.00" x2="487" y2="534.00"/>
<line x1="428" y1="481.50" x2="487" y2="540.50"/>
<line x1="428" y1="488.00" x2="487" y2="547.00"/>
<line x1="428" y1="494.50" x2="487" y2="553.50"/>
</g>
<rect x="451.2" y="326.2" width="12" height="60.6" fill="#fff" stroke="none"/>
<rect x="451.6" y="386" width="11.4" height="21.5" fill="#fff" stroke="none"/>
<g clip-path="url(#cBL)" stroke-width="1.0">
<line x1="412" y1="321.00" x2="432" y2="301.00"/>
<line x1="412" y1="331.00" x2="432" y2="311.00"/>
<line x1="412" y1="341.00" x2="432" y2="321.00"/>
<line x1="412" y1="351.00" x2="432" y2="331.00"/>
<line x1="412" y1="361.00" x2="432" y2="341.00"/>
<line x1="412" y1="371.00" x2="432" y2="351.00"/>
<line x1="412" y1="381.00" x2="432" y2="361.00"/>
<line x1="412" y1="391.00" x2="432" y2="371.00"/>
<line x1="412" y1="401.00" x2="432" y2="381.00"/>
<line x1="412" y1="411.00" x2="432" y2="391.00"/>
<line x1="412" y1="421.00" x2="432" y2="401.00"/>
<line x1="412" y1="431.00" x2="432" y2="411.00"/>
<line x1="412" y1="441.00" x2="432" y2="421.00"/>
</g>
<g clip-path="url(#cBR)" stroke-width="1.0">
<line x1="483" y1="318.00" x2="510" y2="291.00"/>
<line x1="483" y1="328.00" x2="510" y2="301.00"/>
<line x1="483" y1="338.00" x2="510" y2="311.00"/>
<line x1="483" y1="348.00" x2="510" y2="321.00"/>
<line x1="483" y1="358.00" x2="510" y2="331.00"/>
<line x1="483" y1="368.00" x2="510" y2="341.00"/>
<line x1="483" y1="378.00" x2="510" y2="351.00"/>
<line x1="483" y1="388.00" x2="510" y2="361.00"/>
<line x1="483" y1="398.00" x2="510" y2="371.00"/>
<line x1="483" y1="408.00" x2="510" y2="381.00"/>
<line x1="483" y1="418.00" x2="510" y2="391.00"/>
<line x1="483" y1="428.00" x2="510" y2="401.00"/>
<line x1="483" y1="438.00" x2="510" y2="411.00"/>
<line x1="483" y1="448.00" x2="510" y2="421.00"/>
<line x1="483" y1="458.00" x2="510" y2="431.00"/>
</g>
<g clip-path="url(#cLU)" stroke-width="1.0">
<line x1="483" y1="413.20" x2="523" y2="379.20"/>
<line x1="483" y1="423.80" x2="523" y2="389.80"/>
<line x1="483" y1="434.40" x2="523" y2="400.40"/>
<line x1="483" y1="445.00" x2="523" y2="411.00"/>
<line x1="483" y1="455.60" x2="523" y2="421.60"/>
<line x1="483" y1="466.20" x2="523" y2="432.20"/>
<line x1="483" y1="476.80" x2="523" y2="442.80"/>
<line x1="483" y1="487.40" x2="523" y2="453.40"/>
<line x1="483" y1="498.00" x2="523" y2="464.00"/>
<line x1="483" y1="508.60" x2="523" y2="474.60"/>
<line x1="483" y1="519.20" x2="523" y2="485.20"/>
<line x1="483" y1="529.80" x2="523" y2="495.80"/>
<line x1="483" y1="540.40" x2="523" y2="506.40"/>
<line x1="483" y1="551.00" x2="523" y2="517.00"/>
<line x1="483" y1="561.60" x2="523" y2="527.60"/>
<line x1="483" y1="572.20" x2="523" y2="538.20"/>
</g>
<g clip-path="url(#cLL)" stroke-width="1.0">
<line x1="478" y1="469.85" x2="523" y2="431.60"/>
<line x1="478" y1="480.45" x2="523" y2="442.20"/>
<line x1="478" y1="491.05" x2="523" y2="452.80"/>
<line x1="478" y1="501.65" x2="523" y2="463.40"/>
<line x1="478" y1="512.25" x2="523" y2="474.00"/>
<line x1="478" y1="522.85" x2="523" y2="484.60"/>
<line x1="478" y1="533.45" x2="523" y2="495.20"/>
<line x1="478" y1="544.05" x2="523" y2="505.80"/>
<line x1="478" y1="554.65" x2="523" y2="516.40"/>
<line x1="478" y1="565.25" x2="523" y2="527.00"/>
<line x1="478" y1="575.85" x2="523" y2="537.60"/>
<line x1="478" y1="586.45" x2="523" y2="548.20"/>
<line x1="478" y1="597.05" x2="523" y2="558.80"/>
<line x1="478" y1="607.65" x2="523" y2="569.40"/>
<line x1="478" y1="618.25" x2="523" y2="580.00"/>
</g>
<g clip-path="url(#cLeft)" stroke-width="1.0">
<line x1="388" y1="412.00" x2="437" y2="370.35"/>
<line x1="388" y1="422.30" x2="437" y2="380.65"/>
<line x1="388" y1="432.60" x2="437" y2="390.95"/>
<line x1="388" y1="442.90" x2="437" y2="401.25"/>
<line x1="388" y1="453.20" x2="437" y2="411.55"/>
<line x1="388" y1="463.50" x2="437" y2="421.85"/>
<line x1="388" y1="473.80" x2="437" y2="432.15"/>
<line x1="388" y1="484.10" x2="437" y2="442.45"/>
<line x1="388" y1="494.40" x2="437" y2="452.75"/>
<line x1="388" y1="504.70" x2="437" y2="463.05"/>
<line x1="388" y1="515.00" x2="437" y2="473.35"/>
<line x1="388" y1="525.30" x2="437" y2="483.65"/>
<line x1="388" y1="535.60" x2="437" y2="493.95"/>
<line x1="388" y1="545.90" x2="437" y2="504.25"/>
<line x1="388" y1="556.20" x2="437" y2="514.55"/>
<line x1="388" y1="566.50" x2="437" y2="524.85"/>
<line x1="388" y1="576.80" x2="437" y2="535.15"/>
<line x1="388" y1="587.10" x2="437" y2="545.45"/>
<line x1="388" y1="597.40" x2="437" y2="555.75"/>
<line x1="388" y1="607.70" x2="437" y2="566.05"/>
<line x1="388" y1="618.00" x2="437" y2="576.35"/>
</g>
<g clip-path="url(#cBush)" stroke-width="1.0">
<line x1="432" y1="429.00" x2="482" y2="471.50"/>
<line x1="432" y1="435.56" x2="482" y2="478.06"/>
<line x1="432" y1="442.12" x2="482" y2="484.62"/>
<line x1="432" y1="448.68" x2="482" y2="491.18"/>
<line x1="432" y1="455.24" x2="482" y2="497.74"/>
<line x1="432" y1="461.80" x2="482" y2="504.30"/>
<line x1="432" y1="468.36" x2="482" y2="510.86"/>
<line x1="432" y1="474.92" x2="482" y2="517.42"/>
<line x1="432" y1="481.48" x2="482" y2="523.98"/>
<line x1="432" y1="488.04" x2="482" y2="530.54"/>
<line x1="432" y1="494.60" x2="482" y2="537.10"/>
<line x1="432" y1="501.16" x2="482" y2="543.66"/>
<line x1="432" y1="507.72" x2="482" y2="550.22"/>
<line x1="432" y1="514.28" x2="482" y2="556.78"/>
<line x1="432" y1="520.84" x2="482" y2="563.34"/>
<line x1="432" y1="527.40" x2="482" y2="569.90"/>
<line x1="432" y1="533.96" x2="482" y2="576.46"/>
<line x1="432" y1="540.52" x2="482" y2="583.02"/>
<line x1="432" y1="547.08" x2="482" y2="589.58"/>
<line x1="432" y1="553.64" x2="482" y2="596.14"/>
<line x1="432" y1="560.20" x2="482" y2="602.70"/>
<line x1="432" y1="566.76" x2="482" y2="609.26"/>
<line x1="432" y1="573.32" x2="482" y2="615.82"/>
<line x1="432" y1="579.88" x2="482" y2="622.38"/>
<line x1="432" y1="586.44" x2="482" y2="628.94"/>
<line x1="432" y1="593.00" x2="482" y2="635.50"/>
</g>
<path d="M400,434.4 L400,489.7 L407.2,494.2 L414.6,489.7 L414.6,434.4 Z" fill="#fff" stroke="none"/>
<circle cx="494.8" cy="458.8" r="6.6" fill="#fff" stroke="#000" stroke-width="1.8"/>
<line x1="479.60" y1="458.80" x2="510.00" y2="458.80" stroke-width="1.2" stroke="#555"/>
<line x1="494.80" y1="423.00" x2="494.80" y2="531.60" stroke-width="1.2" stroke="#555" stroke-dasharray="18 2 2 2"/>
<path d="M429.8,489 L429.8,349 L430.6,344 L435,326 Q435.6,324 437.6,324 L477,324 Q479,324 479.6,326 L484,344 L484.8,349 L484.8,489" stroke-width="1.8" />
<line x1="429.80" y1="488.80" x2="484.80" y2="488.80" stroke-width="2.2" />
<path d="M451.3,387 L451.3,326.4 L463.1,326.4 L463.1,387" stroke-width="1.6" />
<line x1="449.60" y1="327.00" x2="449.60" y2="386.00" stroke-width="0.8" stroke="#777"/>
<line x1="464.90" y1="327.00" x2="464.90" y2="386.00" stroke-width="0.8" stroke="#777"/>
<line x1="450.00" y1="387.00" x2="464.50" y2="387.00" stroke-width="1.6" />
<path d="M451.5,387 L451.5,407.6 L463.2,407.6 L463.2,387" stroke-width="1.3" />
<ellipse cx="457.5" cy="400.6" rx="3" ry="0.9" stroke-width="0.8"/>
<path d="M452,405.2 L457.5,408.6 L463,405.2" stroke-width="1.6" />
<line x1="457.60" y1="324.00" x2="457.60" y2="387.00" stroke-width="1.0" stroke-dasharray="26 2 2 2"/>
<line x1="457.60" y1="387.00" x2="457.60" y2="540.00" stroke-width="1.0" />
<rect x="451.6" y="341" width="11.2" height="10.2" fill="#fff" stroke="none"/>
<line x1="451.30" y1="341.00" x2="451.30" y2="351.40" stroke-width="1.6" />
<text transform="translate(455.60,350.80) rotate(0) scale(0.6,1)" text-anchor="middle" font-size="12.8" font-weight="bold" font-family="&quot;Liberation Sans&quot;, serif" fill="#000" stroke="#000" stroke-width="0.5" >20</text>
<text transform="translate(461.80,350.80) rotate(0) scale(0.6,1)" text-anchor="middle" font-size="12.8" font-weight="bold" font-family="&quot;Liberation Sans&quot;, serif" fill="#000" stroke="#000" stroke-width="0.5" >°</text>
<path d="M432,343.6 Q441,345.6 450.4,345.4 M464.4,345.4 Q473,345.6 482.5,343.6" stroke-width="1.2" stroke-dasharray="8 1.5"/>
<path d="M429.8,412 C434,409.5 438,408 441.5,408 C447,408 452,410 456,411.5 C460,413 462,414.8 464.5,414.6 C468,414.4 470,412 474,410.5 C478,409.2 482,409.5 484.8,409.7" stroke-width="1.0" />
<path d="M429.8,418.7 C433,417 437,416.8 441.3,417 C447,417.3 452,419 457.5,420.3 C461,421.2 463,421.7 465,421.3 C469,420.5 473,416 477.8,415 C480,414.6 483,415.3 484.8,415.8" stroke-width="1.0" />
<path d="M429.8,340.4 L419.8,340.4 L419.8,372.8" stroke-width="1.75" />
<path d="M414.6,385.5 L429.8,385.5" stroke-width="1.75" />
<path d="M485.2,340.4 L507.7,340.4 L507.7,385.5 L485.2,385.5" stroke-width="1.75" />
<path d="M416.8,387.8 L500,392.3 L416.8,397.2 L500,402 L418.3,406.2 L501.5,411 L419,415.2 L502.3,420 L419.3,424.2 L502.7,429.3 L430,433.5" stroke-width="1.5" stroke-linejoin="bevel"/>
<path d="M400.1,374 L400.1,489.7 L407.2,494.2 L414.6,489.7 L414.6,374" stroke-width="1.7" />
<line x1="399.40" y1="373.40" x2="415.30" y2="373.40" stroke-width="2.2" />
<line x1="400.10" y1="477.60" x2="414.60" y2="477.60" stroke-width="1.0" />
<line x1="400.10" y1="479.30" x2="414.60" y2="479.30" stroke-width="1.0" />
<line x1="400.10" y1="489.70" x2="414.60" y2="489.70" stroke-width="1.0" />
<line x1="407.20" y1="354.00" x2="407.20" y2="392.70" stroke-width="1.0" />
<line x1="407.20" y1="397.80" x2="407.20" y2="399.00" stroke-width="1.0" />
<line x1="407.20" y1="401.50" x2="407.20" y2="439.50" stroke-width="1.0" />
<line x1="407.20" y1="440.80" x2="407.20" y2="441.80" stroke-width="1.0" />
<line x1="407.20" y1="443.00" x2="407.20" y2="463.70" stroke-width="1.0" />
<line x1="407.20" y1="465.00" x2="407.20" y2="466.00" stroke-width="1.0" />
<line x1="407.20" y1="467.30" x2="407.20" y2="511.00" stroke-width="1.0" />
<line x1="407.20" y1="512.30" x2="407.20" y2="513.30" stroke-width="1.0" />
<line x1="407.20" y1="514.80" x2="407.20" y2="534.70" stroke-width="1.0" />
<path d="M414.6,434.4 L429.8,434.4" stroke-width="1.5" />
<path d="M484.8,434.4 L515.4,434.4 Q520.4,434.4 520.4,439.4 L520.4,484 L484.8,484" stroke-width="1.75" />
<path d="M480,489.6 L520.4,489.6 L520.4,520 L480,520" stroke-width="1.75" />
<path d="M420,489 L420,483.7 L429.8,483.7" stroke-width="1.3" />
<path d="M395,434.4 C393,440 391.8,446 391.65,452.8 C391.5,460 394.5,466 395.3,475.8 C396,482 394,488 394,495 C394,498 396,501 400.7,503.6 C405,505.5 412,507 421.3,508.5 C425.5,509.5 429,513.5 431,519.7" stroke-width="0.9" />
<path d="M435,489 L435,527.3 L437.5,530.3 L477.3,530.3 L479.7,527.3 L479.7,489" stroke-width="1.5" />
<line x1="436.80" y1="490.00" x2="436.80" y2="529.50" stroke-width="1.0" />
<line x1="478.20" y1="490.00" x2="478.20" y2="529.50" stroke-width="1.0" />
<path d="M436.8,502 C441,502 445,500 447,496.5 C448,494.5 449,493.5 449.9,493.2 A7.6,4.5 0 0 1 464.4,493.2 C466,493.5 467,494.5 468,496.5 C470,500 474,502 478.2,502.3" stroke-width="1.0" />
<line x1="449.90" y1="493.20" x2="449.90" y2="505.00" stroke-width="1.2" />
<line x1="464.40" y1="493.20" x2="464.40" y2="505.00" stroke-width="1.2" />
<line x1="448.20" y1="504.90" x2="466.70" y2="504.90" stroke-width="1.8" />
<line x1="448.80" y1="505.00" x2="448.80" y2="530.30" stroke-width="1.2" />
<line x1="453.00" y1="505.00" x2="453.00" y2="530.30" stroke-width="1.2" />
<line x1="462.20" y1="505.00" x2="462.20" y2="530.30" stroke-width="1.2" />
<line x1="466.10" y1="505.00" x2="466.10" y2="530.30" stroke-width="1.2" />
<path d="M596.5,785 L596.5,662.5 C640,645 660,680 695,680 C725,680 735,655 763,656.4 L763,785" stroke-width="1.5" />
<path d="M596.5,785 A93.2,93.2 0 0 0 642.5,828.8 L716.3,828.8 A93.2,93.2 0 0 0 763,785" stroke-width="1.5" />
<circle cx="679.5" cy="743" r="52.7" stroke-width="1.6" />
<circle cx="679.5" cy="743" r="40.4" stroke-width="1.6" />
<circle cx="679.5" cy="743" r="22.1" stroke-width="1.6" />
<rect x="674.30" y="690.80" width="10.4" height="6.8" transform="rotate(0 679.5 743)" fill="#fff" stroke="#000" stroke-width="1.1"/>
<rect x="674.30" y="690.80" width="10.4" height="6.8" transform="rotate(60 679.5 743)" fill="#fff" stroke="#000" stroke-width="1.1"/>
<rect x="674.30" y="690.80" width="10.4" height="6.8" transform="rotate(-60 679.5 743)" fill="#fff" stroke="#000" stroke-width="1.1"/>
<rect x="674.30" y="690.80" width="10.4" height="6.8" transform="rotate(-120 679.5 743)" fill="#fff" stroke="#000" stroke-width="1.1"/>
<rect x="674.30" y="690.80" width="10.4" height="6.8" transform="rotate(-180 679.5 743)" fill="#fff" stroke="#000" stroke-width="1.1"/>
<rect x="674.30" y="690.80" width="10.4" height="6.8" transform="rotate(-240 679.5 743)" fill="#fff" stroke="#000" stroke-width="1.1"/>
<line x1="581.50" y1="743.50" x2="784.90" y2="743.50" stroke-width="1.0" stroke-dasharray="18.6 1.8 1.4 1.85" stroke-dashoffset="1.8"/>
<line x1="679.60" y1="603.10" x2="679.60" y2="848.60" stroke-width="1.0" stroke-dasharray="19 1.7 1.4 1.8" stroke-dashoffset="6"/>
</svg>
</body></html>
